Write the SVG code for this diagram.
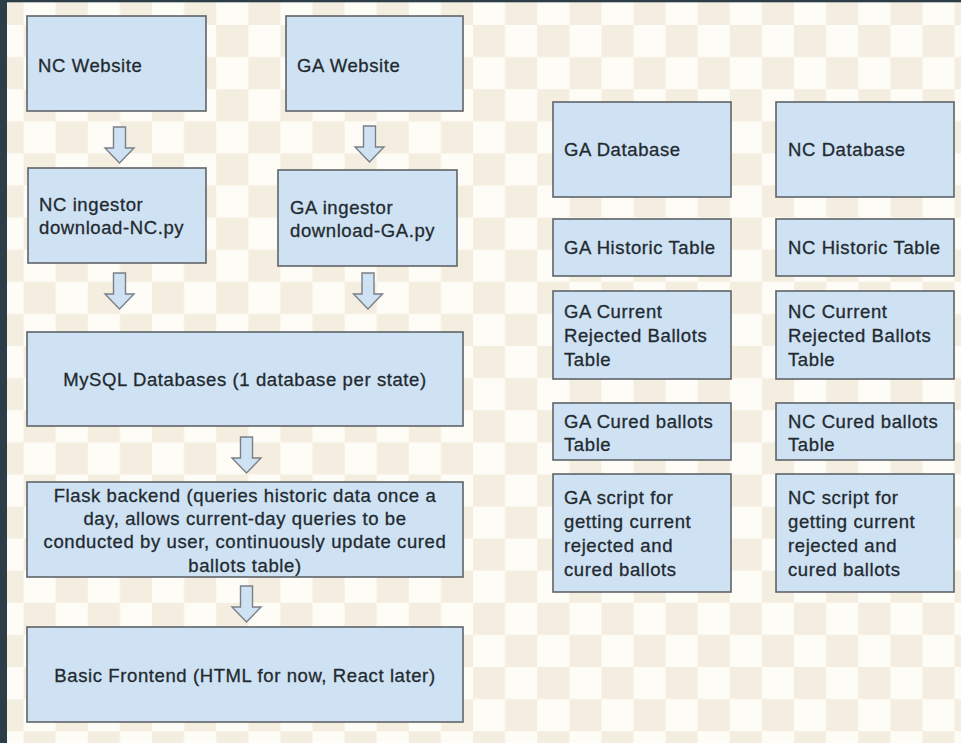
<svg xmlns="http://www.w3.org/2000/svg" width="961" height="743" viewBox="0 0 961 743">
<style>
.box{fill:#cfe2f3;stroke:#5f6368;stroke-width:1.6}
.t{font-family:"Liberation Sans",Arial,sans-serif;font-size:18.5px;letter-spacing:0.6px;fill:#222a30;stroke:#222a30;stroke-width:0.3}
.c{text-anchor:middle}
.arr{fill:#cfe2f3;stroke:#7a7f85;stroke-width:1.4;stroke-linejoin:miter}
</style>
<defs>
<pattern id="checker" x="23.6" y="25" width="64.2" height="64.2" patternUnits="userSpaceOnUse">
<rect x="0" y="0" width="64.2" height="64.2" fill="#fefcf7"/>
<rect x="0" y="0" width="32.1" height="32.1" fill="#f4eee0"/>
<rect x="32.1" y="32.1" width="32.1" height="32.1" fill="#f4eee0"/>
</pattern>
<path id="barrow" d="M-6,0 H6 V21 H14.5 L0,36 L-14.5,21 H-6 Z"/>
</defs>
<rect x="0" y="0" width="961" height="743" fill="url(#checker)"/>
<rect x="0" y="0" width="961" height="2.3" fill="#2e3e49"/>
<rect x="0" y="0" width="7" height="743" fill="#2e3e49"/>

<g id="connectors">
<use href="#barrow" class="arr" x="119.5" y="127"/>
<use href="#barrow" class="arr" x="369.5" y="126"/>
<use href="#barrow" class="arr" x="119.5" y="273"/>
<use href="#barrow" class="arr" x="368" y="273"/>
<use href="#barrow" class="arr" x="246.5" y="437"/>
<use href="#barrow" class="arr" x="246.5" y="586"/>
</g>

<g id="nc-website"><rect class="box" x="27" y="16" width="179" height="95"/><text class="t" x="38" y="72">NC Website</text></g>
<g id="ga-website"><rect class="box" x="286" y="16" width="177" height="95"/><text class="t" x="297" y="72">GA Website</text></g>
<g id="nc-ingestor"><rect class="box" x="28" y="168" width="178" height="95"/><text class="t" x="39" y="211">NC ingestor</text><text class="t" x="39" y="234">download-NC.py</text></g>
<g id="ga-ingestor"><rect class="box" x="278" y="170" width="179" height="96"/><text class="t" x="290" y="214">GA ingestor</text><text class="t" x="290" y="237">download-GA.py</text></g>
<g id="mysql"><rect class="box" x="27" y="332" width="436" height="94"/><text class="t c" x="245" y="386">MySQL Databases (1 database per state)</text></g>
<g id="flask"><rect class="box" x="27" y="482" width="436" height="95"/>
<text class="t c" x="245" y="502">Flask backend (queries historic data once a</text>
<text class="t c" x="245" y="525">day, allows current-day queries to be</text>
<text class="t c" x="245" y="548">conducted by user, continuously update cured</text>
<text class="t c" x="245" y="572">ballots table)</text></g>
<g id="frontend"><rect class="box" x="27" y="627" width="436" height="95"/><text class="t c" x="245" y="682">Basic Frontend (HTML for now, React later)</text></g>

<g id="ga-database"><rect class="box" x="553" y="102" width="178" height="95"/><text class="t" x="564" y="156">GA Database</text></g>
<g id="nc-database"><rect class="box" x="776" y="102" width="178" height="95"/><text class="t" x="788" y="156">NC Database</text></g>
<g id="ga-historic"><rect class="box" x="553" y="219" width="178" height="57"/><text class="t" x="564" y="254">GA Historic Table</text></g>
<g id="nc-historic"><rect class="box" x="776" y="219" width="178" height="57"/><text class="t" x="788" y="254">NC Historic Table</text></g>
<g id="ga-current"><rect class="box" x="553" y="291" width="178" height="88"/><text class="t" x="564" y="318">GA Current</text><text class="t" x="564" y="342">Rejected Ballots</text><text class="t" x="564" y="366">Table</text></g>
<g id="nc-current"><rect class="box" x="776" y="291" width="178" height="88"/><text class="t" x="788" y="318">NC Current</text><text class="t" x="788" y="342">Rejected Ballots</text><text class="t" x="788" y="366">Table</text></g>
<g id="ga-cured"><rect class="box" x="553" y="403" width="178" height="57"/><text class="t" x="564" y="428">GA Cured ballots</text><text class="t" x="564" y="451">Table</text></g>
<g id="nc-cured"><rect class="box" x="776" y="403" width="178" height="57"/><text class="t" x="788" y="428">NC Cured ballots</text><text class="t" x="788" y="451">Table</text></g>
<g id="ga-script"><rect class="box" x="553" y="474" width="178" height="118"/><text class="t" x="564" y="504">GA script for</text><text class="t" x="564" y="528">getting current</text><text class="t" x="564" y="552">rejected and</text><text class="t" x="564" y="576">cured ballots</text></g>
<g id="nc-script"><rect class="box" x="776" y="474" width="178" height="118"/><text class="t" x="788" y="504">NC script for</text><text class="t" x="788" y="528">getting current</text><text class="t" x="788" y="552">rejected and</text><text class="t" x="788" y="576">cured ballots</text></g>
</svg>
